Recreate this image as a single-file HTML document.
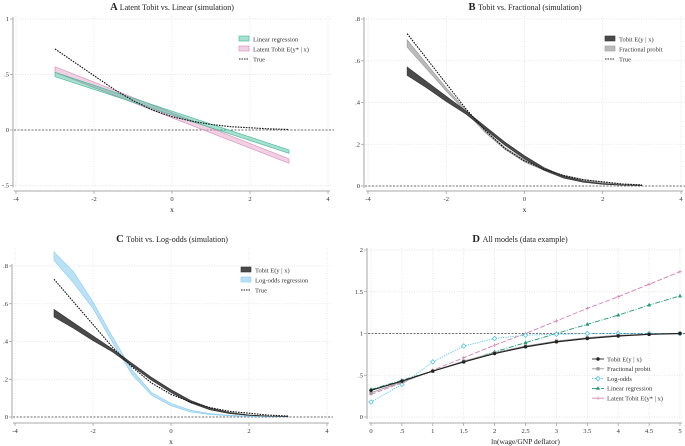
<!DOCTYPE html>
<html><head><meta charset="utf-8"><style>
body{margin:0;background:#fff}
svg{display:block;font-family:"Liberation Serif",serif}
</style></head><body>
<svg id="c" width="685" height="446" viewBox="0 0 685 446" xmlns="http://www.w3.org/2000/svg"></svg>
<script>
// ---- data ----
const simX=[-3,-2.5,-2,-1.5,-1,-0.5,0,0.5,1,1.5,2,2.5,3];
const trueY=[0.73,0.61,0.49,0.37,0.265,0.18,0.12,0.08,0.05,0.03,0.02,0.01,0.005];
const linX=[-3,3];
const linLo=[0.48,-0.21];
const linHi=[0.52,-0.18];
const latLo=[0.52,-0.30];
const latHi=[0.57,-0.26];
const tobLo=[0.53,0.47,0.405,0.345,0.27,0.195,0.13,0.075,0.038,0.018,0.008,0.004,0.002];
const tobHi=[0.57,0.50,0.43,0.36,0.285,0.21,0.145,0.088,0.048,0.024,0.011,0.005,0.003];
const fraLo=[0.665,0.56,0.455,0.355,0.255,0.175,0.115,0.075,0.046,0.027,0.014,0.007,0.003];
const fraHi=[0.70,0.585,0.47,0.365,0.265,0.185,0.125,0.082,0.052,0.032,0.018,0.009,0.005];
const logLo=[0.83,0.71,0.575,0.395,0.225,0.115,0.06,0.027,0.013,0.006,0.003,0.0015,0.001];
const logHi=[0.875,0.77,0.61,0.425,0.25,0.13,0.072,0.036,0.018,0.009,0.005,0.003,0.002];
const dX=[0,0.5,1,1.5,2,2.5,3,3.5,4,4.5,5];
const dTobit=[0.32,0.43,0.55,0.66,0.76,0.84,0.90,0.94,0.97,0.99,1.0];
const dFrac=[0.29,0.42,0.55,0.67,0.77,0.85,0.91,0.95,0.98,0.99,1.0];
const dLog=[0.18,0.39,0.66,0.85,0.94,0.98,0.99,1.0,1.0,1.0,1.0];
const dLin=[0.33,0.44,0.55,0.66,0.78,0.89,1.0,1.11,1.22,1.34,1.45];
const dLat=[0.27,0.41,0.56,0.71,0.86,1.0,1.15,1.30,1.44,1.59,1.74];
const simXTicks=[-4,-2,0,2,4];
const simXLabels=["-4","-2","0","2","4"];
const aYTicks=[-0.5,0,0.5,1];
const aYLabels=["-.5","0",".5","1"];
const bYTicks=[0,0.2,0.4,0.6,0.8];
const bYLabels=["0",".2",".4",".6",".8"];
const dXTicks=[0,0.5,1,1.5,2,2.5,3,3.5,4,4.5,5];
const dXLabels=["0",".5","1","1.5","2","2.5","3","3.5","4","4.5","5"];
const dYTicks=[0,0.5,1,1.5,2];
const dYLabels=["0",".5","1","1.5","2"];

const svg=document.getElementById('c');
const NS="http://www.w3.org/2000/svg";
function el(tag,attrs,parent,txt){const e=document.createElementNS(NS,tag);for(const k in attrs)e.setAttribute(k,attrs[k]);if(txt!==undefined)e.textContent=txt;(parent||svg).appendChild(e);return e;}

function panel(cfg){
  const g=el('g',{});
  
  
  const sx=v=>cfg.x0+(v-cfg.xmin)/(cfg.xmax-cfg.xmin)*(cfg.x1-cfg.x0);
  const sy=v=>cfg.y0+(v-cfg.ymin)/(cfg.ymax-cfg.ymin)*(cfg.y1-cfg.y0);
  // grid
  cfg.xt.forEach(t=>{const l=el('line',{x1:sx(t),x2:sx(t),y1:cfg.gridTop,y2:cfg.axisY-3,stroke:'#ddd','stroke-width':0.7,'stroke-dasharray':'1,1.5'},g);
    });
  cfg.yt.forEach(t=>{const l=el('line',{x1:cfg.axisX+2,x2:cfg.x1+4,y1:sy(t),y2:sy(t),stroke:'#ddd','stroke-width':0.7,'stroke-dasharray':'1,1.5'},g);
    });
  // axes
  const xa=el('line',{x1:cfg.x0-2,x2:cfg.x1+2,y1:cfg.axisY,y2:cfg.axisY,stroke:'#bbb','stroke-width':1.3},g);
  
  const ya=el('line',{x1:cfg.axisX,x2:cfg.axisX,y1:sy(cfg.yt[cfg.yt.length-1])-2,y2:sy(cfg.yt[0])+2,stroke:'#bbb','stroke-width':1.3},g);
  
  cfg.xt.forEach((t,i)=>{el('line',{x1:sx(t),x2:sx(t),y1:cfg.axisY,y2:cfg.axisY+3,stroke:'#999','stroke-width':0.7},g);
    const tx=el('text',{x:sx(t),y:cfg.axisY+10,'font-size':6.5,'text-anchor':'middle',fill:'#333'},g,cfg.xl[i]);
    });
  cfg.yt.forEach((t,i)=>{el('line',{x1:cfg.axisX-3,x2:cfg.axisX,y1:sy(t),y2:sy(t),stroke:'#999','stroke-width':0.7},g);
    const tx=el('text',{x:cfg.axisX-4,y:sy(t)+2.2,'font-size':6.5,'text-anchor':'end',fill:'#333'},g,cfg.yl[i]);
    });
  const xt=el('text',{x:(cfg.x0+cfg.x1)/2,y:cfg.axisY+21,'font-size':7.5,'text-anchor':'middle',fill:'#222'},g,cfg.xtitle);
  
  const tt=el('text',{x:cfg.titleX,y:cfg.titleY,'font-size':8,'text-anchor':'middle',fill:'#222'},g);
  
  el('tspan',{'font-size':10.5,'font-weight':'bold'},tt,cfg.letter+' ');
  el('tspan',{},tt,cfg.title);
  // zero/one line
  const rl=el('line',{x1:cfg.axisX+1,x2:cfg.x1+6,y1:sy(cfg.refY),y2:sy(cfg.refY),stroke:'#444','stroke-width':0.8,'stroke-dasharray':'2,1.5'},g);
  
  return {g,sx,sy};
}
function band(p,xs,lo,hi,fill,stroke,name){
  let d='M'+xs.map((x,i)=>p.sx(x)+','+p.sy(hi[i])).join('L');
  for(let i=xs.length-1;i>=0;i--)d+='L'+p.sx(xs[i])+','+p.sy(lo[i]);
  const e=el('path',{d:d+'Z',fill:fill,stroke:stroke,'stroke-width':0.6},p.g);
  
}
function line(p,xs,ys,color,dash,w,name){
  const e=el('polyline',{points:xs.map((x,i)=>p.sx(x)+','+p.sy(ys[i])).join(' '),fill:'none',stroke:color,'stroke-width':w,'stroke-dasharray':dash},p.g);
  
}
function legend(g,x,y,items){
  items.forEach((it,i)=>{
    const yy=y+i*10;
    if(it.type==='band'){const r=el('rect',{x:x,y:yy-3,width:10,height:5,fill:it.fill,stroke:it.stroke,'stroke-width':0.6},g);
      }
    else{const l=el('line',{x1:x,x2:x+10,y1:yy,y2:yy,stroke:'#222','stroke-width':1,'stroke-dasharray':'1.5,1'},g);
      }
    const t=el('text',{x:x+14,y:yy+2.3,'font-size':6.5,fill:'#333'},g,it.label);
    
  });
}
const TRUE_DASH='1.6,1.1';
// Panel A
const A=panel({name:'panel-a',xmin:-4,xmax:4,x0:16,x1:328,ymin:0,ymax:1,y0:130,y1:19,axisY:191,axisX:13,gridTop:16,
  xt:simXTicks,xl:simXLabels,yt:aYTicks,yl:aYLabels,xtitle:'x',letter:'A',title:'Latent Tobit vs. Linear (simulation)',titleX:172,titleY:10,refY:0});
band(A,linX,latLo,latHi,'rgba(222,150,190,0.45)','#d98ab8','latent-tobit-band');
band(A,linX,linLo,linHi,'rgba(60,185,150,0.45)','#3cb995','linear-regression-band');
line(A,simX,trueY,'#111',TRUE_DASH,1.1,'true-line');
legend(A.g,239,39,[{type:'band',fill:'rgba(60,185,150,0.45)',stroke:'#3cb995',label:'Linear regression'},{type:'band',fill:'rgba(222,150,190,0.45)',stroke:'#d98ab8',label:'Latent Tobit E(y* | x)'},{type:'line',label:'True'}]);
// Panel B
const B=panel({name:'panel-b',xmin:-4,xmax:4,x0:368,x1:681,ymin:0,ymax:0.8,y0:186,y1:19,axisY:191,axisX:364,gridTop:16,
  xt:simXTicks,xl:simXLabels,yt:bYTicks,yl:bYLabels,xtitle:'x',letter:'B',title:'Tobit vs. Fractional (simulation)',titleX:525,titleY:10,refY:0});
band(B,simX,fraLo,fraHi,'rgba(170,170,170,0.8)','#999','fractional-probit-band');
band(B,simX,tobLo,tobHi,'#4a4a4a','#333','tobit-band');
line(B,simX,trueY,'#111',TRUE_DASH,1.1,'true-line');
legend(B.g,605,39,[{type:'band',fill:'#4a4a4a',stroke:'#333',label:'Tobit E(y | x)'},{type:'band',fill:'rgba(170,170,170,0.8)',stroke:'#999',label:'Fractional probit'},{type:'line',label:'True'}]);
// Panel C
const C=panel({name:'panel-c',xmin:-4,xmax:4,x0:15,x1:327,ymin:0,ymax:0.8,y0:417,y1:266,axisY:423,axisX:12,gridTop:248,
  xt:simXTicks,xl:simXLabels,yt:bYTicks,yl:bYLabels,xtitle:'x',letter:'C',title:'Tobit vs. Log-odds (simulation)',titleX:172,titleY:242,refY:0});
band(C,simX,logLo,logHi,'rgba(140,205,240,0.6)','#8ccdf0','log-odds-band');
band(C,simX,tobLo,tobHi,'#4a4a4a','#333','tobit-band');
line(C,simX,trueY,'#111',TRUE_DASH,1.1,'true-line');
legend(C.g,241,270,[{type:'band',fill:'#4a4a4a',stroke:'#333',label:'Tobit E(y | x)'},{type:'band',fill:'rgba(140,205,240,0.6)',stroke:'#8ccdf0',label:'Log-odds regression'},{type:'line',label:'True'}]);
// Panel D
const D=panel({name:'panel-d',xmin:0,xmax:5,x0:371,x1:680,ymin:0,ymax:2,y0:417,y1:250,axisY:423,axisX:367,gridTop:248,
  xt:dXTicks,xl:dXLabels,yt:dYTicks,yl:dYLabels,xtitle:'ln(wage/GNP deflator)',letter:'D',title:'All models (data example)',titleX:520,titleY:242,refY:1});
function markers(p,xs,ys,shape,color,name){
  xs.forEach((x,i)=>{const cx=p.sx(x),cy=p.sy(ys[i]);let e;
    if(shape==='circle')e=el('circle',{cx:cx,cy:cy,r:1.7,fill:color},p.g);
    else if(shape==='square')e=el('rect',{x:cx-1.6,y:cy-1.6,width:3.2,height:3.2,fill:color},p.g);
    else if(shape==='diamond')e=el('path',{d:`M${cx},${cy-2.2}L${cx+2.2},${cy}L${cx},${cy+2.2}L${cx-2.2},${cy}Z`,fill:'#fff',stroke:color,'stroke-width':0.8},p.g);
    else if(shape==='tri')e=el('path',{d:`M${cx},${cy-2.3}L${cx+2},${cy+1.4}L${cx-2},${cy+1.4}Z`,fill:color},p.g);
    else e=el('path',{d:`M${cx-1.8},${cy}H${cx+1.8}M${cx},${cy-1.8}V${cy+1.8}`,stroke:color,'stroke-width':0.7},p.g);
    });
}
const dSeries=[
 {ys:dLat,c:'#d67fb4',dash:'5,2',shape:'plus',label:'Latent Tobit E(y* | x)',n:'latent-tobit'},
 {ys:dLin,c:'#1f9c77',dash:'5,1.5,1,1.5',shape:'tri',label:'Linear regression',n:'linear-regression'},
 {ys:dLog,c:'#4fc3e8',dash:'1.2,1.2',shape:'diamond',label:'Log-odds',n:'log-odds'},
 {ys:dFrac,c:'#999',dash:'',shape:'square',label:'Fractional probit',n:'fractional-probit'},
 {ys:dTobit,c:'#222',dash:'',shape:'circle',label:'Tobit E(y | x)',n:'tobit'}];
dSeries.forEach(s=>{line(D,dX,s.ys,s.c,s.dash,s.n==='tobit'?1.2:0.9,s.n+'-line');markers(D,dX,s.ys,s.shape,s.c,s.n+'-point');});
dSeries.slice().reverse().forEach((s,i)=>{const yy=359+i*9.8;
  const l=el('line',{x1:592,x2:604,y1:yy,y2:yy,stroke:s.c,'stroke-width':0.9,'stroke-dasharray':s.dash},D.g);
  
  markers({g:D.g,sx:v=>v,sy:v=>v},[598],[yy],s.shape,s.c,'legend-marker');
  const t=el('text',{x:607,y:yy+2.3,'font-size':6.5,fill:'#333'},D.g,s.label);
  });
</script>
</body></html>
